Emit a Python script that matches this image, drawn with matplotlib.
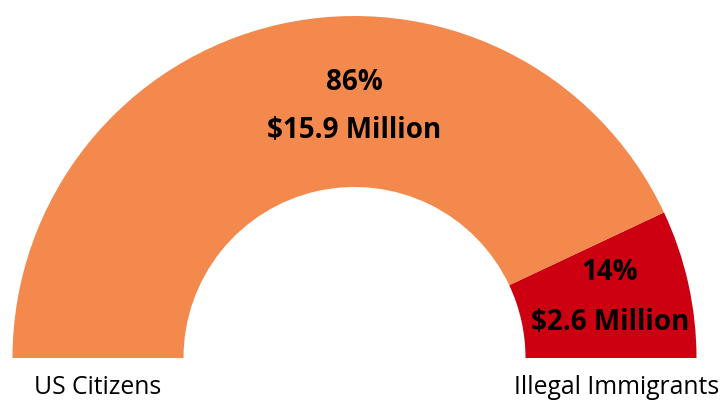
import matplotlib.pyplot as plt

# Daten
kategorije = ['Illegal Immigrants', 'US Citizens']
udjeli = [14, 86]
iznosi = ['$2.6 Million', '$15.9 Million']
boje = ['#CC0011', '#F4894D']

plt.rcParams['font.family'] = ['Open Sans', 'DejaVu Sans']

fig = plt.figure(figsize=(7.25, 4.01), dpi=100)
ax = fig.add_axes([0, 0, 1, 1])

# pola kruga: dodaje se nevidljivi dio jednak zbroju
vrijednosti = udjeli + [sum(udjeli)]
wedges, _ = ax.pie(vrijednosti, colors=boje + ['none'], startangle=0,
                   counterclock=True, center=(354.5, 43), radius=342,
                   wedgeprops=dict(width=171, linewidth=0), frame=True)

ax.set_xlim(0, 725)
ax.set_ylim(0, 401)
ax.set_aspect('equal')
ax.axis('off')

# oznake u segmentima
ax.text(610, 401 - 272, f'{udjeli[0]}%', ha='center', va='center',
        fontsize=20, fontweight='bold', color='black')
ax.text(610, 401 - 323, iznosi[0], ha='center', va='center',
        fontsize=20, fontweight='bold', color='black')
ax.text(354, 401 - 82, f'{udjeli[1]}%', ha='center', va='center',
        fontsize=20, fontweight='bold', color='black')
ax.text(354, 401 - 131, iznosi[1], ha='center', va='center',
        fontsize=20, fontweight='bold', color='black')

# nazivi ispod
ax.text(98, 401 - 387, kategorije[1], ha='center', va='center', fontsize=17.8)
ax.text(617, 401 - 387, kategorije[0], ha='center', va='center', fontsize=17.8)

fig.savefig('out.png', dpi=100)
